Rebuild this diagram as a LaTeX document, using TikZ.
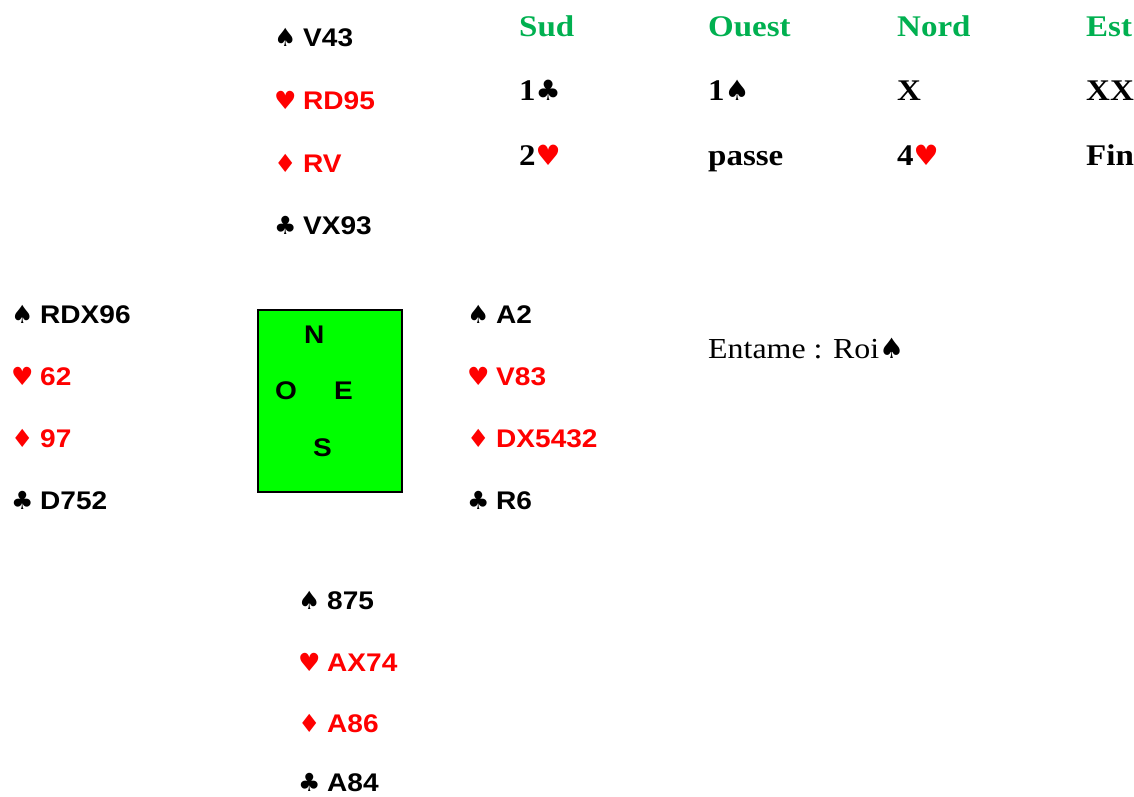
\documentclass[tikz,border=0pt]{standalone}
\usepackage{fontspec}
\newfontfamily\handfont[FakeStretch=1.1]{Liberation Sans}
\newfontfamily\bidfont[FakeStretch=1.1]{Liberation Serif}
\newfontfamily\suitfont{DejaVu Sans}
\definecolor{bidgreen}{RGB}{0,176,80}
\definecolor{tablegreen}{RGB}{0,255,0}
\newcommand{\handsuit}[1]{\makebox[28pt][l]{\hspace{-1pt}\suitfont\fontsize{25}{28}\selectfont #1}}
\newcommand{\bidsuit}[1]{{\suitfont\fontsize{28}{30}\selectfont #1}}

\begin{document}
\begin{tikzpicture}[x=1pt,y=-1pt,
    hand/.style={anchor=base west,inner sep=0pt,font=\handfont\bfseries\fontsize{25.5}{30}\selectfont},
    redhand/.style={hand,text=red},
    bid/.style={anchor=base west,inner sep=0pt,font=\bidfont\bfseries\fontsize{30}{34}\selectfont},
    head/.style={bid,text=bidgreen}]
  \useasboundingbox (0,0) rectangle (1134,797);
  % nord
  \node[hand] (nS) at (275,47) {\handsuit{♠}V43};
  \node[redhand] (nH) at (275,110) {\handsuit{♥}RD95};
  \node[redhand] (nD) at (275,172) {\handsuit{♦}RV};
  \node[hand] (nC) at (275,234) {\handsuit{♣}VX93};
  % ouest
  \node[hand] (oS) at (12,323) {\handsuit{♠}RDX96};
  \node[redhand] (oH) at (12,385) {\handsuit{♥}62};
  \node[redhand] (oD) at (12,447) {\handsuit{♦}97};
  \node[hand] (oC) at (12,509) {\handsuit{♣}D752};
  % est
  \node[hand] (eS) at (468,323) {\handsuit{♠}A2};
  \node[redhand] (eH) at (468,385) {\handsuit{♥}V83};
  \node[redhand] (eD) at (468,447) {\handsuit{♦}DX5432};
  \node[hand] (eC) at (468,509) {\handsuit{♣}R6};
  % sud
  \node[hand] (sS) at (299,609) {\handsuit{♠}875};
  \node[redhand] (sH) at (299,671) {\handsuit{♥}AX74};
  \node[redhand] (sD) at (299,732) {\handsuit{♦}A86};
  \node[hand] (sC) at (299,791) {\handsuit{♣}A84};
  % table
  \node[draw,line width=1.5pt,fill=tablegreen,anchor=north west,
    minimum width=144pt,minimum height=182pt] (table) at (257,309) {};
  \node[hand] (tN) at (304,343) {N};
  \node[hand] (tO) at (275,399) {O};
  \node[hand] (tE) at (334,399) {E};
  \node[hand] (tS) at (313,456) {S};
  % encheres
  \node[head] (hS) at (519,37) {Sud};
  \node[head] (hO) at (708,37) {Ouest};
  \node[head] (hN) at (897,37) {Nord};
  \node[head] (hE) at (1086,37) {Est};
  \node[bid] (b1) at (519,101) {1\bidsuit{♣}};
  \node[bid] (b2) at (708,101) {1\bidsuit{♠}};
  \node[bid] (b3) at (897,101) {X};
  \node[bid] (b4) at (1086,101) {XX};
  \node[bid] (b5) at (519,165) {2\textcolor{red}{\bidsuit{♥}}};
  \node[bid] (b6) at (708,165) {passe};
  \node[bid] (b7) at (897,165) {4\textcolor{red}{\bidsuit{♥}}};
  \node[bid] (b8) at (1086,165) {Fin};
  \node[anchor=base west,inner sep=0pt,font=\bidfont\fontsize{29}{34}\selectfont]
    (lead) at (708,358) {Entame : Roi\bidsuit{♠}};
\end{tikzpicture}
\end{document}
